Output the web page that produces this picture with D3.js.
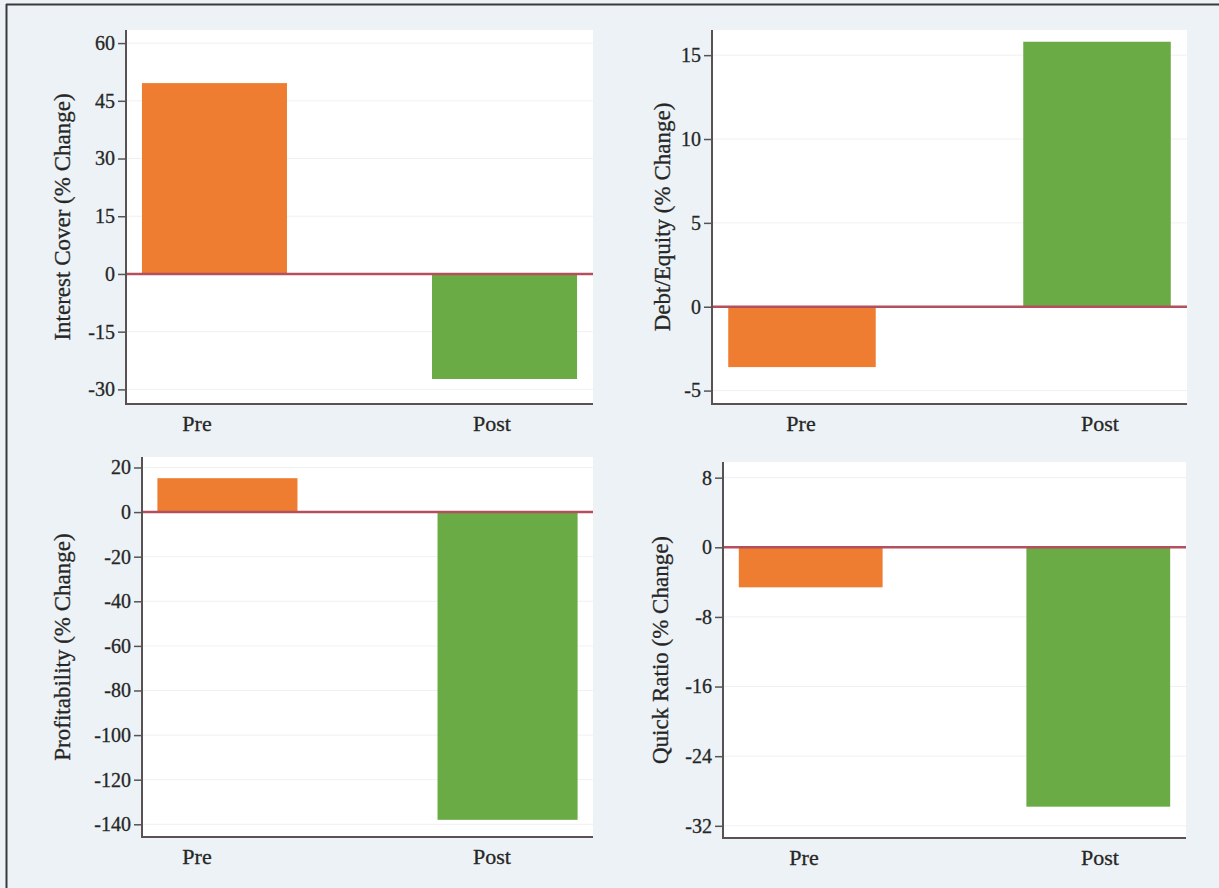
<!DOCTYPE html>
<html>
<head>
<meta charset="utf-8">
<script src="https://cdn.jsdelivr.net/npm/d3@7"></script>
<style>
  html, body { margin: 0; padding: 0; background: #ecf2f5; }
  svg { display: block; }
  text { font-family: "Liberation Serif", "Times New Roman", serif; fill: #262626; }
</style>
</head>
<body>
<svg id="chart" width="1219" height="888"></svg>
<script>
// ---- data ----
const categories = ["Pre", "Post"];

const interestCover = [49.6, -27.3];
const debtEquity = [-3.6, 15.8];
const profitability = [15.2, -138];
const quickRatio = [-4.6, -29.8];

const interestCoverTicks = [60, 45, 30, 15, 0, -15, -30];
const debtEquityTicks = [15, 10, 5, 0, -5];
const profitabilityTicks = [20, 0, -20, -40, -60, -80, -100, -120, -140];
const quickRatioTicks = [8, 0, -8, -16, -24, -32];

const titles = [
  "Interest Cover (% Change)",
  "Debt/Equity (% Change)",
  "Profitability (% Change)",
  "Quick Ratio (% Change)"
];

const barColors = ["#ee7d31", "#6aab45"];

// ---- layout ----
const panels = [
  { values: interestCover, ticks: interestCoverTicks, title: titles[0], domain: [-33.8, 63.4],
    x0: 126, x1: 593, y0: 30, y1: 404, titleX: 62, labelRange: [197, 492] },
  { values: debtEquity, ticks: debtEquityTicks, title: titles[1], domain: [-5.8, 16.5],
    x0: 712, x1: 1187, y0: 30, y1: 404, titleX: 662, labelRange: [801, 1100] },
  { values: profitability, ticks: profitabilityTicks, title: titles[2], domain: [-145.7, 24.7],
    x0: 142, x1: 593, y0: 457, y1: 837, titleX: 62, labelRange: [197, 492] },
  { values: quickRatio, ticks: quickRatioTicks, title: titles[3], domain: [-33.4, 9.8],
    x0: 723, x1: 1186, y0: 462, y1: 838, titleX: 660, labelRange: [804, 1100] }
];

const svg = d3.select("#chart");

// outer frame (top and left edges visible)
svg.append("line").attr("x1", 6).attr("x2", 1219).attr("y1", 4.5).attr("y2", 4.5)
  .attr("stroke", "#3a3a3a").attr("stroke-width", 2);
svg.append("line").attr("x1", 6.5).attr("x2", 6.5).attr("y1", 4).attr("y2", 888)
  .attr("stroke", "#3a3a3a").attr("stroke-width", 2);

panels.forEach(p => {
  const g = svg.append("g");
  const y = d3.scaleLinear().domain(p.domain).range([p.y1, p.y0]);
  const x = d3.scaleBand().domain(categories).range([p.x0, p.x1])
    .paddingInner(0.5).paddingOuter(0.055);
  const xl = d3.scalePoint().domain(categories).range(p.labelRange);

  // plot region
  g.append("rect").attr("x", p.x0).attr("y", p.y0)
    .attr("width", p.x1 - p.x0).attr("height", p.y1 - p.y0)
    .attr("fill", "#ffffff");

  // gridlines
  g.selectAll(".grid").data(p.ticks).join("line")
    .attr("x1", p.x0).attr("x2", p.x1)
    .attr("y1", d => y(d)).attr("y2", d => y(d))
    .attr("stroke", "#eef1f2").attr("stroke-width", 1);

  // bars
  g.selectAll(".bar").data(categories).join("rect")
    .attr("x", d => x(d))
    .attr("width", x.bandwidth())
    .attr("y", (d, i) => y(Math.max(0, p.values[i])))
    .attr("height", (d, i) => Math.abs(y(p.values[i]) - y(0)))
    .attr("fill", (d, i) => barColors[i]);

  // zero line
  g.append("line").attr("x1", p.x0).attr("x2", p.x1)
    .attr("y1", y(0)).attr("y2", y(0))
    .attr("stroke", "#b4505e").attr("stroke-width", 2.5);

  // y axis
  const yAxis = d3.axisLeft(y).tickValues(p.ticks).tickSize(8).tickPadding(3)
    .tickFormat(d3.format("d"));
  const ya = g.append("g").attr("transform", `translate(${p.x0},0)`).call(yAxis);
  ya.select(".domain").remove();
  ya.selectAll(".tick line").attr("stroke", "#555").attr("stroke-width", 1.5);
  ya.selectAll(".tick text")
    .style("font-family", "'Liberation Serif', serif")
    .style("font-size", "20px").attr("fill", "#262626")
    .attr("stroke", "#262626").attr("stroke-width", 0.3)
    .text(d => d < 0 ? "-" + Math.abs(d) : d);
  g.append("line").attr("x1", p.x0).attr("x2", p.x0)
    .attr("y1", p.y0).attr("y2", p.y1 + 1)
    .attr("stroke", "#5a5252").attr("stroke-width", 2);

  // x axis line
  g.append("line").attr("x1", p.x0 - 1).attr("x2", p.x1)
    .attr("y1", p.y1).attr("y2", p.y1)
    .attr("stroke", "#5a5252").attr("stroke-width", 2);

  // category labels
  g.selectAll(".cat").data(categories).join("text")
    .attr("x", d => xl(d))
    .attr("y", p.y1 + 27)
    .attr("text-anchor", "middle")
    .attr("stroke", "#262626").attr("stroke-width", 0.3)
    .style("font-size", "22px")
    .text(d => d);

  // y title
  g.append("text")
    .attr("transform", `translate(${p.titleX},${(p.y0 + p.y1) / 2}) rotate(-90)`)
    .attr("text-anchor", "middle")
    .attr("dy", "0.35em")
    .attr("stroke", "#262626").attr("stroke-width", 0.3)
    .style("font-size", "23px")
    .text(p.title);
});
</script>
</body>
</html>
